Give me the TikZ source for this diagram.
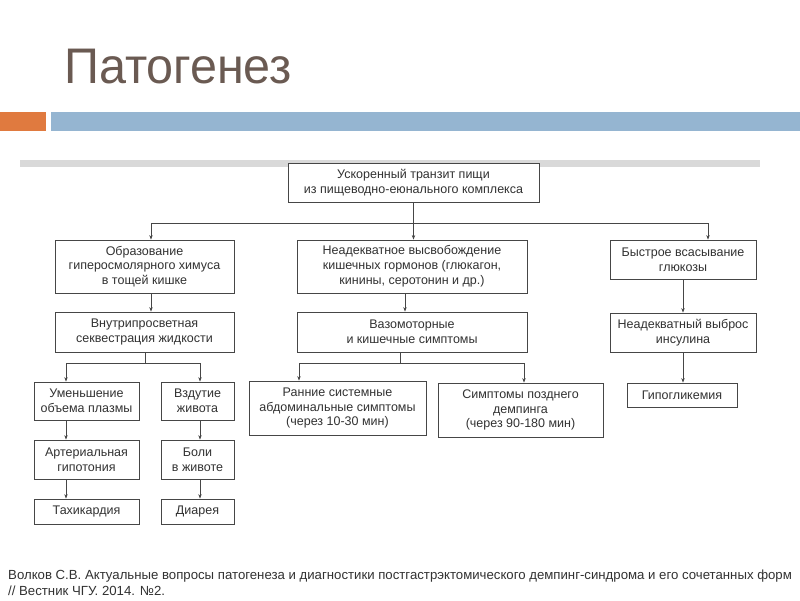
\documentclass[tikz,border=0pt]{standalone}
\usepackage{fontspec}
\setmainfont{Liberation Sans}
\newfontfamily\narrowfont[FakeStretch=0.97]{Liberation Sans}
\usetikzlibrary{arrows.meta}
\definecolor{titlec}{RGB}{106,90,82}
\definecolor{orangec}{RGB}{224,122,63}
\definecolor{bluec}{RGB}{149,181,209}
\definecolor{grayc}{RGB}{217,217,217}
\definecolor{linec}{RGB}{70,70,70}
\definecolor{textc}{RGB}{50,50,50}
\begin{document}
\begin{tikzpicture}[x=1pt,y=-1pt,
  box/.style={draw=linec, line width=0.8pt, fill=white, align=center, inner sep=0pt,
    font=\fontsize{12.5}{14.8}\selectfont, text=textc},
  arr/.style={draw=linec, line width=0.7pt, -{Stealth[length=4.5pt,width=3.4pt]}},
  ln/.style={draw=linec, line width=0.7pt},
  reftext/.style={anchor=base west, font=\fontsize{13.2}{15}\selectfont, text=textc, inner sep=0pt}]
\useasboundingbox (0,0) rectangle (800,600);
\fill[white] (0,0) rectangle (800,600);
% title and bars
\node[anchor=base west, font=\narrowfont\fontsize{50}{50}\selectfont, text=titlec, inner sep=0pt] (title) at (64,83) {Патогенез};
\fill[orangec] (0,112) rectangle (46,131);
\fill[bluec] (51,112) rectangle (800,131);
\fill[grayc] (20,160) rectangle (760,167);
% boxes
\node[box, minimum width=251pt, minimum height=39pt] (T) at (413.5,182.5) {Ускоренный транзит пищи\\из пищеводно-еюнального комплекса};
\node[box, minimum width=179pt, minimum height=53pt] (A) at (144.5,266.5) {Образование\\гиперосмолярного химуса\\в тощей кишке};
\node[box, minimum width=230pt, minimum height=53pt] (B) at (412,266.5) {Неадекватное высвобождение\\кишечных гормонов (глюкагон,\\кинины, серотонин и др.)};
\node[box, minimum width=146pt, minimum height=39pt] (C) at (683,259.5) {Быстрое всасывание\\глюкозы};
\node[box, minimum width=179pt, minimum height=40pt] (D) at (144.5,332) {Внутрипросветная\\секвестрация жидкости};
\node[box, minimum width=230pt, minimum height=40pt] (E) at (412,332) {Вазомоторные\\и кишечные симптомы};
\node[box, minimum width=146pt, minimum height=39pt] (F) at (683,332.5) {Неадекватный выброс\\инсулина};
\node[box, minimum width=110pt, minimum height=24pt] (K) at (682,395) {Гипогликемия};
\node[box, minimum width=105pt, minimum height=38pt] (G) at (86.5,401) {Уменьшение\\объема плазмы};
\node[box, minimum width=73pt, minimum height=38pt] (H) at (197.5,401) {Вздутие\\живота};
\node[box, minimum width=105pt, minimum height=39pt] (L) at (86.5,459.5) {Артериальная\\гипотония};
\node[box, minimum width=73pt, minimum height=39pt] (M) at (197.5,459.5) {Боли\\в животе};
\node[box, minimum width=105pt, minimum height=25pt] (N) at (86.5,511.5) {Тахикардия};
\node[box, minimum width=73pt, minimum height=25pt] (O) at (197.5,511.5) {Диарея};
\node[box, minimum width=177pt, minimum height=54pt] (I) at (337.5,408) {Ранние системные\\абдоминальные симптомы\\(через 10-30 мин)};
\node[box, minimum width=165pt, minimum height=54pt] (J) at (520.5,410) {Симптомы позднего\\демпинга\\(через 90-180 мин)};
% connectors: top level
\coordinate (hA) at (151,223);
\coordinate (hC) at (708,223);
\draw[ln] (hA) -- (hC);
\draw[arr] (T.south) -- (T.south |- B.north);
\draw[arr] (hA) -- (hA |- A.north);
\draw[arr] (hC) -- (hC |- C.north);
% column 1
\draw[arr] (A.south -| hA) -- (hA |- D.north);
\coordinate (dD) at (145,363);
\coordinate (hG) at (66,363);
\coordinate (hH) at (200,363);
\draw[ln] (D.south -| dD) -- (dD);
\draw[ln] (hG) -- (hH);
\draw[arr] (hG) -- (hG |- G.north);
\draw[arr] (hH) -- (hH |- H.north);
\draw[arr] (G.south -| hG) -- (hG |- L.north);
\draw[arr] (H.south -| hH) -- (hH |- M.north);
\draw[arr] (L.south -| hG) -- (hG |- N.north);
\draw[arr] (M.south -| hH) -- (hH |- O.north);
% column 2
\coordinate (cB) at (405,0);
\draw[arr] (B.south -| cB) -- (cB |- E.north);
\coordinate (dE) at (400,363);
\coordinate (hI) at (299,363);
\coordinate (hJ) at (524,363);
\draw[ln] (E.south -| dE) -- (dE);
\draw[ln] (hI) -- (hJ);
\draw[arr] (hI) -- (hI |- I.north);
\draw[arr] (hJ) -- (hJ |- J.north);
% column 3
\coordinate (cC) at (683,0);
\draw[arr] (C.south -| cC) -- (cC |- F.north);
\draw[arr] (F.south -| cC) -- (cC |- K.north);
% reference
\node[reftext] (ref1) at (8,579) {Волков С.В. Актуальные вопросы патогенеза и диагностики постгастрэктомического демпинг-синдрома и его сочетанных форм};
\node[reftext] (ref2) at (8,595) {// Вестник ЧГУ. 2014. №2.};
\end{tikzpicture}
\end{document}
